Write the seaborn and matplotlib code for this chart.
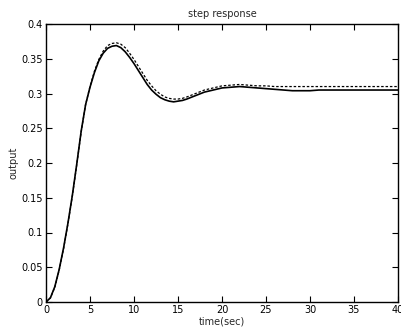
import matplotlib
matplotlib.use("Agg")
import matplotlib.pyplot as plt
import seaborn as sns

# ---- data ----
time_sec = [0, 0.5, 1, 1.5, 2, 2.5, 3, 3.5, 4, 4.5, 5, 5.5, 6, 6.5, 7, 7.5, 8, 8.5,
            9, 9.5, 10, 10.5, 11, 11.5, 12, 12.5, 13, 13.5, 14, 14.5, 15, 15.5, 16,
            17, 18, 19, 20, 21, 22, 23, 24, 25, 26, 27, 28, 29, 30, 31, 32, 33, 34,
            35, 36, 37, 38, 39, 40]
output_solid = [0, 0.006, 0.022, 0.047, 0.078, 0.114, 0.154, 0.199, 0.246, 0.284, 0.309,
                0.33, 0.347, 0.358, 0.365, 0.368, 0.369, 0.366, 0.36, 0.352, 0.343,
                0.333, 0.323, 0.313, 0.305, 0.299, 0.294, 0.291, 0.289, 0.288, 0.289,
                0.29, 0.292, 0.297, 0.302, 0.305, 0.308, 0.309, 0.31, 0.309, 0.308,
                0.307, 0.306, 0.305, 0.304, 0.304, 0.304, 0.305, 0.305, 0.305, 0.305,
                0.305, 0.305, 0.305, 0.305, 0.305, 0.305]
output_dashed = [0, 0.006, 0.021, 0.046, 0.077, 0.113, 0.153, 0.198, 0.245, 0.284, 0.31,
                 0.332, 0.349, 0.361, 0.369, 0.372, 0.373, 0.371, 0.366, 0.358, 0.349,
                 0.339, 0.329, 0.319, 0.311, 0.304, 0.299, 0.295, 0.293, 0.292, 0.292,
                 0.293, 0.295, 0.3, 0.305, 0.308, 0.311, 0.312, 0.313, 0.312, 0.311,
                 0.311, 0.31, 0.31, 0.31, 0.31, 0.31, 0.31, 0.31, 0.31, 0.31,
                 0.31, 0.31, 0.31, 0.31, 0.31, 0.31]
x_ticks = [0, 5, 10, 15, 20, 25, 30, 35, 40]
y_ticks = [0, 0.05, 0.1, 0.15, 0.2, 0.25, 0.3, 0.35, 0.4]
y_tick_labels = ["0", "0.05", "0.1", "0.15", "0.2", "0.25", "0.3", "0.35", "0.4"]

sns.set_style("ticks")
plt.rcParams["font.family"] = ["DejaVu Sans"]

fig = plt.figure(figsize=(4.02, 3.35), dpi=100)
ax = fig.add_axes([46 / 402, 33 / 335, 352 / 402, 278 / 335])

sns.lineplot(x=time_sec, y=output_dashed, ax=ax, color="black", linewidth=0.9,
             linestyle=(0, (2.0, 1.5)), estimator=None, sort=False)
sns.lineplot(x=time_sec, y=output_solid, ax=ax, color="black", linewidth=1.2,
             estimator=None, sort=False)

ax.set_xlim(0, 40)
ax.set_ylim(0, 0.4)
ax.set_xticks(x_ticks)
ax.set_xticklabels([str(v) for v in x_ticks])
ax.set_yticks(y_ticks)
ax.set_yticklabels(y_tick_labels)
ax.tick_params(direction="in", top=True, right=True, length=4, width=0.8,
               labelsize=7, pad=2.5, colors="black")
for s in ax.spines.values():
    s.set_visible(True)
    s.set_linewidth(1.0)
    s.set_color("black")

ax.set_title("step response", fontsize=7, pad=5)
ax.set_xlabel("time(sec)", fontsize=7, labelpad=1)
ax.set_ylabel("output", fontsize=7, labelpad=2)

fig.savefig("out.png", dpi=100)
